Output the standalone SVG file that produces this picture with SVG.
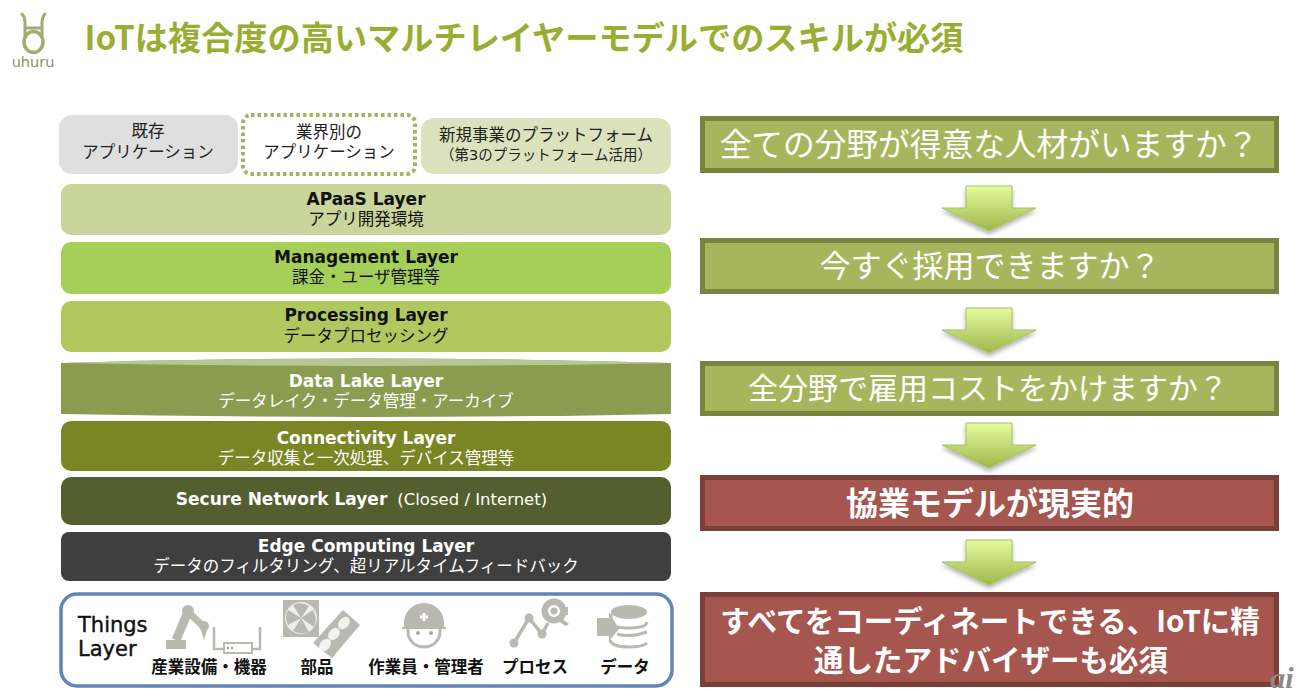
<svg xmlns="http://www.w3.org/2000/svg" width="1300" height="698" viewBox="0 0 1300 698">
<style>
text{font-family:"DejaVu Sans","Noto Sans CJK JP",sans-serif;text-anchor:middle}
.t{fill:#222}
.h{font-size:17px;font-weight:bold}
.s{font-size:16.5px}
.w{fill:#fff}
.d{fill:#111}
.q{fill:#fff;font-family:"Noto Sans CJK JP",sans-serif}
.r{fill:#fff;font-weight:bold;font-family:"Noto Sans CJK JP",sans-serif}
.g{fill:#a7b65d;stroke:#76843f;stroke-width:5}
.m{fill:#a5564f;stroke:#7a3f3a;stroke-width:5}
.i{fill:#b9b9b2}
.o{fill:none;stroke:#b9b9b2}
.lg{fill:none;stroke:#a3ab72;stroke-linecap:round}
.l{font-size:16.5px;font-weight:bold;fill:#111;font-family:"Noto Sans CJK JP",sans-serif}
.n{font-size:21px;fill:#111;stroke:#111;stroke-width:.4;text-anchor:start;font-family:"DejaVu Sans",sans-serif}
</style>
<defs>
<linearGradient id="ag" x1="0" y1="0" x2="0" y2="1"><stop offset="0" stop-color="#e6fb9e"/><stop offset="1" stop-color="#9db84c"/></linearGradient>
<filter id="sh" x="-20%" y="-20%" width="140%" height="150%"><feDropShadow dx="0" dy="3" stdDeviation="2" flood-color="#000" flood-opacity=".3"/></filter>
<path id="arrow" d="M-23 0H23V22H47L0 45L-47 22H-23Z" fill="url(#ag)" stroke="#a9bf63" stroke-width="1" filter="url(#sh)"/>
</defs>
<g id="logo">
<path class="lg" stroke-width="3" d="M22 14Q25 17 25 22V36M45 14Q42 17 42 22V36M25 28H42"/>
<ellipse class="lg" stroke-width="3.500" cx="33.500" cy="42" rx="9.500" ry="10.500"/>
<text x="33" y="67" style="font-size:14.500px;fill:#8d9462;font-family:'DejaVu Sans',sans-serif">uhuru</text>
</g>
<g id="title"><text x="524" y="50" style="font-size:33.200px;font-weight:bold;fill:#9aad33;font-family:'Noto Sans CJK JP',sans-serif">IoTは複合度の高いマルチレイヤーモデルでのスキルが必須</text></g>
<g id="app-existing"><rect x="59" y="115" width="179" height="59" rx="13" fill="#dfdfdf"/><text class="t s" x="148" y="137">既存</text><text class="t s" x="148" y="158">アプリケーション</text></g>
<g id="app-industry"><rect x="243" y="115" width="172" height="59" rx="8" fill="#fff" stroke="#a3b35f" stroke-width="4" stroke-dasharray="3.5 3"/><text class="t s" x="329" y="138">業界別の</text><text class="t s" x="329" y="158">アプリケーション</text></g>
<g id="app-new"><rect x="421" y="118" width="250" height="56" rx="13" fill="#dbe2bd"/><text class="t s" x="546" y="141">新規事業のプラットフォーム</text><text class="t" x="546" y="160" style="font-size:14.500px">（第3のプラットフォーム活用）</text></g>
<g id="apaas"><rect x="61" y="184" width="610" height="51" rx="10" fill="#cad59c"/><text class="h d" x="366" y="205">APaaS Layer</text><text class="s d" x="366" y="225">アプリ開発環境</text></g>
<g id="management"><rect x="61" y="242" width="610" height="52" rx="10" fill="#a5cf59"/><text class="h d" x="366" y="263">Management Layer</text><text class="s d" x="366" y="283">課金・ユーザ管理等</text></g>
<g id="processing"><rect x="61" y="301" width="610" height="51" rx="10" fill="#b0c95f"/><text class="h d" x="366" y="321">Processing Layer</text><text class="s d" x="366" y="342">データプロセッシング</text></g>
<g id="datalake"><path d="M61 363Q366 354 671 363V414Q366 420 61 414Z" fill="#8b9c50"/><path d="M61 363Q366 354 671 363Q366 369 61 363Z" fill="#b9c693"/><text class="h w" x="366" y="387">Data Lake Layer</text><text class="s w" x="366" y="407">データレイク・データ管理・アーカイブ</text></g>
<g id="connectivity"><rect x="61" y="421" width="610" height="50" rx="10" fill="#7a8524"/><text class="h w" x="366" y="444">Connectivity Layer</text><text class="s w" x="366" y="464">データ収集と一次処理、デバイス管理等</text></g>
<g id="secure"><rect x="61" y="477" width="610" height="48" rx="10" fill="#555e2e"/><text x="361.500" y="505"><tspan class="h w">Secure Network Layer</tspan><tspan class="w" style="font-size:16.500px" dx="10">(Closed / Internet)</tspan></text></g>
<g id="edge"><rect x="61" y="532" width="610" height="49" rx="8" fill="#3f3f3f"/><text class="h w" x="366" y="552">Edge Computing Layer</text><text class="s w" x="366" y="572">データのフィルタリング、超リアルタイムフィードバック</text></g>
<g id="things">
<rect x="61" y="594" width="611" height="92" rx="16" fill="#fff" stroke="#6384b9" stroke-width="3.5"/>
<text class="n" x="78" y="632">Things</text>
<text class="n" x="78" y="656">Layer</text>
<g id="icon-robot"><rect class="i" x="166" y="640" width="20" height="9"/><path class="o" stroke-width="9" d="M176 640L188 612"/><path class="o" stroke-width="7" d="M188 612L204 627"/><path class="i" d="M201 630H207L204 640Z"/><circle class="i" cx="188" cy="611" r="6"/><circle class="i" cx="204" cy="626" r="5"/>
<path class="o" stroke-width="2.500" d="M214 627V649H223M260 627V649H252"/><rect x="224" y="643" width="28" height="10" fill="#fff" stroke="#b9b9b2" stroke-width="2"/><circle cx="228" cy="648" r="1.200" fill="#999"/><circle cx="232" cy="648" r="1.200" fill="#999"/></g>
<g id="icon-parts"><rect x="283" y="600" width="36" height="37" class="i"/><circle cx="301" cy="618" r="16" fill="#eeeeea"/><path class="i" d="M301 618L293 605Q301 601 309 606ZM301 618L313 610Q318 618 314 627ZM301 618L309 632Q301 635 293 631ZM301 618L288 625Q284 617 288 610Z"/>
<path class="i" d="M343 610L360 625L332 658L313 643Z"/><ellipse cx="344" cy="623" rx="5" ry="7" fill="#f2f2ee" transform="rotate(40 344 623)"/><ellipse cx="334" cy="634" rx="5" ry="7" fill="#f2f2ee" transform="rotate(40 334 634)"/><ellipse cx="325" cy="645" rx="5" ry="7" fill="#f2f2ee" transform="rotate(40 325 645)"/></g>
<g id="icon-worker"><path class="i" d="M404 623A20 20 0 0 1 444 623V627H446V629H402V627H404Z"/><path d="M408 629V632A16 15 0 0 0 440 632V629" fill="#fff" stroke="#b9b9b2" stroke-width="3"/><circle cx="418" cy="633" r="2" fill="#aaa"/><circle cx="431" cy="633" r="2" fill="#aaa"/><path d="M424 613V621M420 617H428" stroke="#fff" stroke-width="3"/></g>
<g id="icon-process"><path class="o" stroke-width="3.500" d="M514 643L529 618L542 634L548 623"/><circle cx="514" cy="643" r="4.500" class="i"/><circle cx="529" cy="618" r="4.500" class="i"/><circle cx="542" cy="634" r="4.500" class="i"/><circle cx="554" cy="611" r="12.500" class="i"/><rect class="i" x="562" y="607" width="6" height="8"/><path class="i" d="M561 618L569 624L566 626L558 621Z"/><circle cx="554" cy="611" r="6" fill="#fff"/><circle cx="554" cy="611" r="3.500" class="i"/></g>
<g id="icon-data"><ellipse cx="629" cy="612" rx="18" ry="7" class="i"/><path class="o" stroke-width="3" d="M611 622Q612 628 629 628Q646 628 647 622M617 634Q629 638 647 632M610 640Q612 647 629 647Q643 647 647 643M611 614V622"/><path class="i" d="M597 618H609V612L619 629L609 641V636H597Z"/></g>
<text class="l" x="209" y="673">産業設備・機器</text><text class="l" x="317" y="673">部品</text><text class="l" x="426" y="673">作業員・管理者</text><text class="l" x="535" y="673">プロセス</text><text class="l" x="625" y="673">データ</text>
</g>
<g id="q1"><rect class="g" x="702.500" y="118.500" width="574" height="52"/><text class="q" style="font-size:31.700px" x="989" y="156">全ての分野が得意な人材がいますか？</text></g>
<g id="q2"><rect class="g" x="702.500" y="240.500" width="574" height="51"/><text class="q" style="font-size:31px" x="990" y="277">今すぐ採用できますか？</text></g>
<g id="q3"><rect class="g" x="702.500" y="363.500" width="574" height="50"/><text class="q" style="font-size:30px" x="988" y="399">全分野で雇用コストをかけますか？</text></g>
<g id="q4"><rect class="m" x="702.500" y="477.500" width="574" height="51"/><text class="r" style="font-size:32px" x="990" y="515">協業モデルが現実的</text></g>
<g id="q5"><rect class="m" x="702.500" y="594.500" width="574" height="90"/><text class="r" style="font-size:29.500px"><tspan x="990" y="632">すべてをコーディネートできる、IoTに精</tspan><tspan x="991" y="671">通したアドバイザーも必須</tspan></text></g>
<g id="connectors"><use href="#arrow" x="989" y="186"/><use href="#arrow" x="989" y="308"/><use href="#arrow" x="989" y="423"/><use href="#arrow" x="989" y="540"/></g>
<g id="watermark"><text x="1282" y="688" style="font-size:30px;font-style:italic;font-weight:bold;fill:#8a8a8a;font-family:'Liberation Serif',serif">ai</text></g>
</svg>
